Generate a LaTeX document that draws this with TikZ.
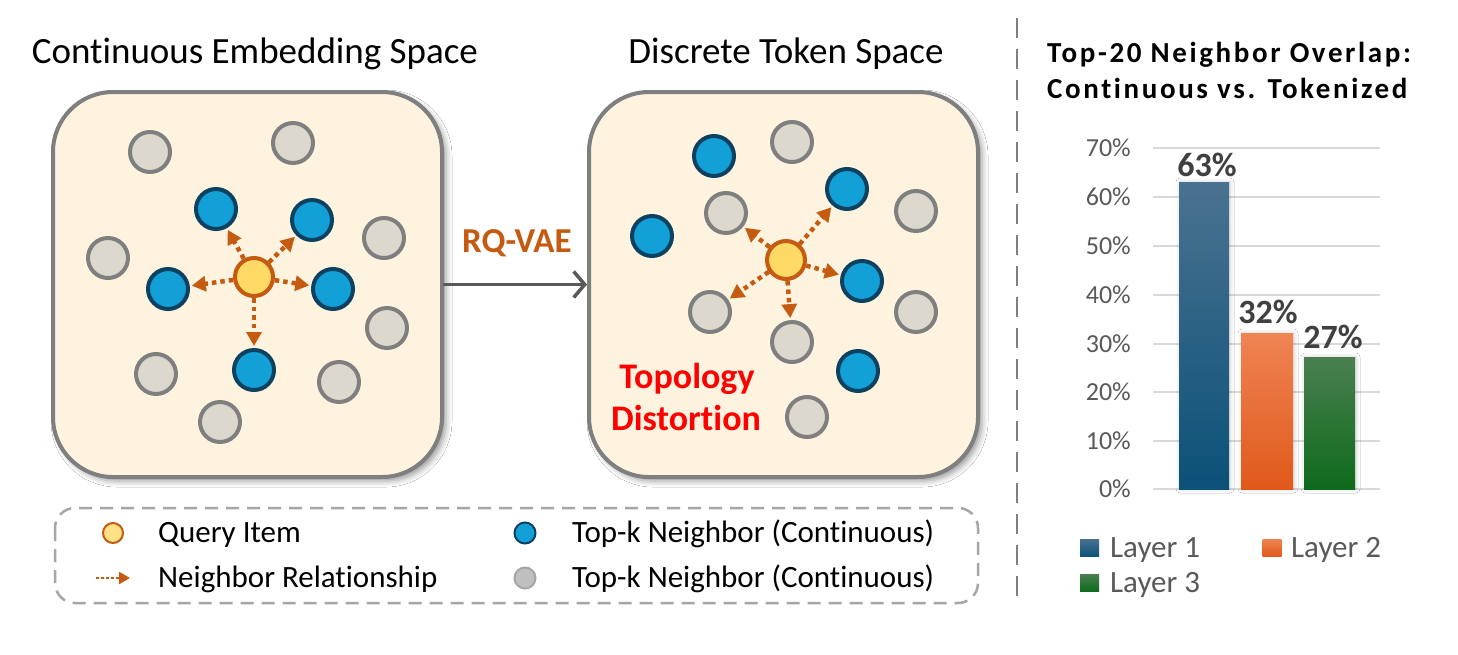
\documentclass[tikz,border=0pt]{standalone}
\usepackage{fontspec}
\setmainfont[Ligatures={NoCommon,NoContextual},Contextuals={NoAlternate}]{Carlito}
\newfontfamily\charttitlefont[LetterSpace=9,Ligatures={NoCommon,NoContextual},Contextuals={NoAlternate}]{Carlito}
\usetikzlibrary{arrows.meta,shadows.blur}
\definecolor{cream}{HTML}{FEF3DF}
\definecolor{boxgray}{HTML}{7F7F7F}
\definecolor{rqgray}{HTML}{595959}
\definecolor{rqorange}{HTML}{C55A11}
\definecolor{qfill}{HTML}{FFD966}
\definecolor{bfill}{HTML}{12A0D7}
\definecolor{bborder}{HTML}{0C4160}
\definecolor{gfill}{HTML}{DDD8CE}
\definecolor{lgfill}{HTML}{BFBFBF}
\definecolor{lgborder}{HTML}{A6A6A6}
\definecolor{gridc}{HTML}{D9D9D9}
\definecolor{axc}{HTML}{595959}
\definecolor{valc}{HTML}{404040}
\definecolor{lonetop}{HTML}{4A7290}
\definecolor{lonebot}{HTML}{0B5178}
\definecolor{ltwotop}{HTML}{EF8454}
\definecolor{ltwobot}{HTML}{E0591A}
\definecolor{lthreetop}{HTML}{4A7F50}
\definecolor{lthreebot}{HTML}{0E6A1C}
\definecolor{topred}{HTML}{FF0000}
\newcommand\myfs[1]{\fontsize{#1pt}{#1pt}\selectfont}
\begin{document}
\begin{tikzpicture}[x=1pt,y=-1pt,
  spacebox/.style={draw=boxgray, fill=cream, line width=4pt, rounded corners=60pt,
    minimum width=389pt, minimum height=385pt, inner sep=0pt,
    blur shadow={shadow xshift=4pt, shadow yshift=-4pt, shadow blur radius=6pt, shadow opacity=40}},
  gnode/.style={circle, minimum size=40pt, inner sep=0pt, fill=gfill, draw=boxgray, line width=4pt},
  bnode/.style={circle, minimum size=40pt, inner sep=0pt, fill=bfill, draw=bborder, line width=4pt},
  qnode/.style={circle, minimum size=38pt, inner sep=0pt, fill=qfill, draw=rqorange, line width=4pt},
  nbarrow/.style={draw=rqorange, line width=4.5pt, dash pattern=on 4.5pt off 4pt,
    -{Triangle[length=14pt,width=15pt]}, shorten >=2pt},
  rqarrow/.style={draw=rqgray, line width=3.5pt, line cap=round,
    -{Straight Barb[length=11pt,width=26pt,line width=3.5pt]}},
  titletext/.style={inner sep=0pt, font=\myfs{37}, text=black},
  legtext/.style={inner sep=0pt, font=\myfs{31}, text=black, anchor=base west},
  axlab/.style={inner sep=0pt, font=\myfs{26}, text=axc, anchor=east},
  vallab/.style={inner sep=0pt, font=\myfs{34}\bfseries, text=valc},
  laylab/.style={inner sep=0pt, font=\myfs{31}, text=axc, anchor=base west},
  barshadow/.style={blur shadow={shadow xshift=1pt, shadow yshift=0pt, shadow blur radius=4pt, shadow opacity=20}},
]
\useasboundingbox (0,0) rectangle (1458,654);
\fill[white] (0,0) rectangle (1458,654);

% titles
\node[titletext, anchor=base] (tleft) at (255,63) {Continuous Embedding Space};
\node[titletext, anchor=base] (tright) at (786,63) {Discrete Token Space};

% boxes
\node[spacebox] (lbox) at (247.5,284.5) {};
\node[spacebox] (rbox) at (783.5,284.5) {};

% RQ-VAE arrow
\draw[rqarrow] (lbox.east) -- (rbox.west);
\node[inner sep=0pt, anchor=base, font=\myfs{35}\bfseries, text=rqorange] (rqlab) at (517,252) {RQ-VAE};

% left box circles
\node[gnode] (lg1) at (150,152) {};
\node[gnode] (lg2) at (293,143) {};
\node[gnode] (lg3) at (108,258) {};
\node[gnode] (lg4) at (384,238) {};
\node[gnode] (lg5) at (387,328) {};
\node[gnode] (lg6) at (156,374) {};
\node[gnode] (lg7) at (339,382) {};
\node[gnode] (lg8) at (220,422) {};
\node[bnode] (lb1) at (216,209) {};
\node[bnode] (lb2) at (312,220) {};
\node[bnode] (lb3) at (168,289) {};
\node[bnode] (lb4) at (333,289) {};
\node[bnode] (lb5) at (254,370) {};
\node[qnode] (lq) at (254,277) {};
\foreach \t in {lb1,lb2,lb3,lb4,lb5} \draw[nbarrow] (lq) -- (\t);

% right box circles
\node[bnode] (rb1) at (714,156) {};
\node[bnode] (rb2) at (847,189) {};
\node[bnode] (rb3) at (652,236) {};
\node[bnode] (rb4) at (862,281) {};
\node[bnode] (rb5) at (858,371) {};
\node[gnode] (rg1) at (792,142) {};
\node[gnode] (rg2) at (726,213) {};
\node[gnode] (rg3) at (916,211) {};
\node[gnode] (rg4) at (710,312) {};
\node[gnode] (rg5) at (792,342) {};
\node[gnode] (rg6) at (916,312) {};
\node[gnode] (rg7) at (807,417) {};
\node[qnode] (rq) at (786,260) {};
\foreach \t in {rg2,rb2,rb4,rg5,rg4} \draw[nbarrow] (rq) -- (\t);

\node[inner sep=0pt, anchor=base, font=\myfs{36}\bfseries, text=topred] (topo1) at (687,388) {Topology};
\node[inner sep=0pt, anchor=base, font=\myfs{36}\bfseries, text=topred] (topo2) at (686,430) {Distort{}ion};

% legend box
\draw[draw=lgborder, line width=2.5pt, dash pattern=on 13pt off 8pt, rounded corners=20pt]
  (55,508) rectangle (978,603);
\node[circle, minimum size=20pt, inner sep=0pt, fill=qfill!80!white, draw=rqorange, line width=2pt] (legq) at (113,533) {};
\node[legtext] (legqt) at (158,542) {Query Item};
\coordinate (legaa) at (96,578);
\coordinate (legab) at (130,578);
\draw[draw=rqorange, line width=2.5pt, dash pattern=on 2.5pt off 2.5pt, -{Triangle[length=11pt,width=12pt]}] (legaa) -- (legab);
\node[legtext] (legat) at (158,587) {Neighbor Relationship};
\node[circle, minimum size=21pt, inner sep=0pt, fill=bfill, draw=bborder, line width=2pt] (legb) at (525,533) {};
\node[legtext] (legbt) at (572,542) {Top-k Neighbor (Continuous)};
\node[circle, minimum size=21pt, inner sep=0pt, fill=lgfill, draw=lgborder, line width=2pt] (legg) at (525,578) {};
\node[legtext] (leggt) at (572,587) {Top-k Neighbor (Continuous)};

% separator
\draw[draw=boxgray, line width=2.5pt, dash pattern=on 20pt off 11pt] (1017,18) -- (1017,606);

% chart title
\node[inner sep=0pt, anchor=base west, font=\charttitlefont\myfs{29}\bfseries, text=black] (ct1) at (1047,62) {Top-20 Neighbor Overlap:};
\node[inner sep=0pt, anchor=base west, font=\charttitlefont\myfs{29}\bfseries, text=black] (ct2) at (1047,98) {Continuous vs. Tokenized};

% grid + axis labels
\foreach \v/\yy in {0/489,10/441,20/392,30/344,40/295,50/246,60/197,70/148} {
  \draw[draw=gridc, line width=2pt] (1153,\yy) -- (1380,\yy);
  \node[axlab] (ax\v) at (1131,\yy) {\v\%};
}

% bars
\shade[barshadow, top color=lonetop, bottom color=lonebot] (1179,182) rectangle (1229,489);
\shade[barshadow, top color=ltwotop, bottom color=ltwobot] (1241,333) rectangle (1293,489);
\shade[barshadow, top color=lthreetop, bottom color=lthreebot] (1304,357) rectangle (1355,489);

\node[vallab] (v1) at (1207,165) {63\%};
\node[vallab] (v2) at (1268,312) {32\%};
\node[vallab] (v3) at (1333,337) {27\%};

% chart legend
\node[minimum width=19pt, minimum height=17pt, inner sep=0pt, top color=lonetop, bottom color=lonebot] (sq1) at (1089.5,547.5) {};
\node[laylab] (lay1) at (1110,557) {Layer 1};
\node[minimum width=19pt, minimum height=17pt, inner sep=0pt, top color=ltwotop, bottom color=ltwobot] (sq2) at (1272,547.5) {};
\node[laylab] (lay2) at (1291,557) {Layer 2};
\node[minimum width=19pt, minimum height=17pt, inner sep=0pt, top color=lthreetop, bottom color=lthreebot] (sq3) at (1089.5,582.5) {};
\node[laylab] (lay3) at (1110,592) {Layer 3};
\end{tikzpicture}
\end{document}
